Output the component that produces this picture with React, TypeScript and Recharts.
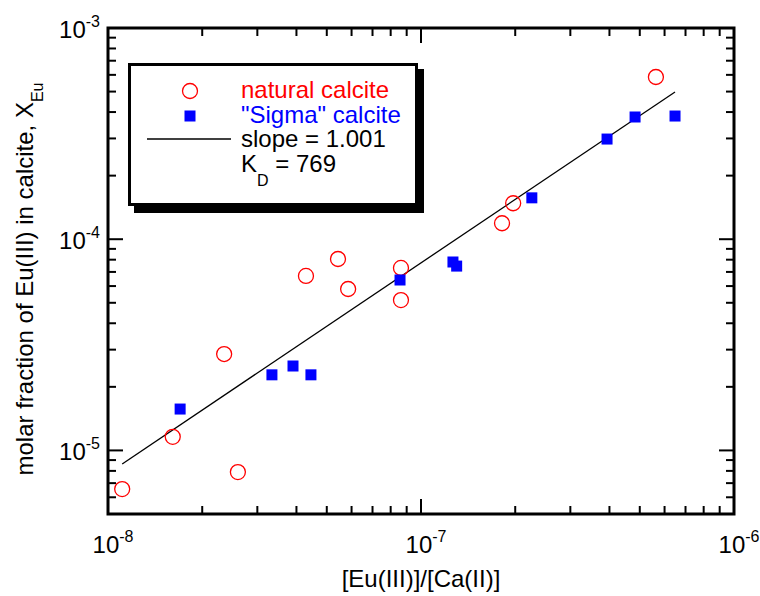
import React from 'react';
import { ScatterChart, Scatter, XAxis, YAxis, ReferenceArea, Legend, Label } from 'recharts';

// natural calcite (open red circles)
const naturalX = [1.11e-8, 1.61e-8, 2.35e-8, 2.6e-8, 4.29e-8, 5.43e-8, 5.85e-8, 8.63e-8, 8.63e-8, 1.815e-7, 1.97e-7, 5.63e-7];
const naturalY = [6.56e-6, 1.16e-5, 2.86e-5, 7.9e-6, 6.7e-5, 8.06e-5, 5.81e-5, 7.31e-5, 5.15e-5, 1.19e-4, 1.48e-4, 5.86e-4];

// "Sigma" calcite (filled blue squares)
const sigmaX = [1.7e-8, 3.34e-8, 3.9e-8, 4.45e-8, 8.57e-8, 1.265e-7, 1.3e-7, 2.26e-7, 3.93e-7, 4.83e-7, 6.48e-7];
const sigmaY = [1.57e-5, 2.28e-5, 2.51e-5, 2.28e-5, 6.41e-5, 7.8e-5, 7.46e-5, 1.57e-4, 2.98e-4, 3.79e-4, 3.83e-4];

// fitted line ends (slope = 1.001, KD = 769)
const fitX = [1.11e-8, 6.48e-7];
const fitY = [8.63e-6, 4.98e-4];

const xDomain = [1e-8, 1e-6];
const yDomain = [5e-6, 1e-3];
const xMajor = [1e-8, 1e-7, 1e-6];
const xMajorLabels = ['-8', '-7', '-6'];
const yMajor = [1e-5, 1e-4, 1e-3];
const yMajorLabels = ['-5', '-4', '-3'];
const mantissas = [2, 3, 4, 5, 6, 7, 8, 9];

const legendNatural = 'natural calcite';
const legendSigma = '"Sigma" calcite';
const legendSlope = 'slope = 1.001';
const legendKd = '769';

const FONT = "'Liberation Sans', Arial, Helvetica, sans-serif";
const W = 760;
const H = 596;
const PLOT_LEFT = 108;
const PLOT_TOP = 28;
const PLOT_RIGHT = 734;
const PLOT_BOTTOM = 514;

const zip = (xs: number[], ys: number[]) => xs.map((x, i) => ({ x, y: ys[i] }));
const naturalData = zip(naturalX, naturalY);
const sigmaData = zip(sigmaX, sigmaY);
const fitData = zip(fitX, fitY);

const minorTicks = (majors: number[], domain: number[]) => {
  const out: number[] = [];
  [majors[0] / 10, ...majors].forEach(d => {
    mantissas.forEach(m => {
      const v = m * d;
      if (v >= domain[0] * 0.999 && v <= domain[1] * 1.001) out.push(v);
    });
  });
  return out;
};

const xTicks = [...xMajor, ...minorTicks(xMajor, xDomain)].sort((a, b) => a - b);
const yTicks = [...yMajor, ...minorTicks(yMajor, yDomain)].sort((a, b) => a - b);

const majorIndex = (v: number, majors: number[]) =>
  majors.findIndex(m => Math.abs(Math.log10(v) - Math.log10(m)) < 1e-6);

const XTick = ({ x, payload }: any) => {
  const idx = majorIndex(payload.value, xMajor);
  const len = idx >= 0 ? 15 : 8;
  return (
    <g>
      <line x1={x} x2={x} y1={PLOT_BOTTOM} y2={PLOT_BOTTOM - len} stroke="#000" strokeWidth={2} />
      <line x1={x} x2={x} y1={PLOT_TOP} y2={PLOT_TOP + len} stroke="#000" strokeWidth={2} />
      {idx >= 0 && (
        <text x={x + 5} y={PLOT_BOTTOM + 39} textAnchor="middle" fontSize={24} fontFamily={FONT} fill="#000">
          10<tspan dy={-11} fontSize={16}>{xMajorLabels[idx]}</tspan>
        </text>
      )}
    </g>
  );
};

const YTick = ({ y, payload }: any) => {
  const idx = majorIndex(payload.value, yMajor);
  const len = idx >= 0 ? 15 : 8;
  return (
    <g>
      <line x1={PLOT_LEFT} x2={PLOT_LEFT + len} y1={y} y2={y} stroke="#000" strokeWidth={2} />
      <line x1={PLOT_RIGHT} x2={PLOT_RIGHT - len} y1={y} y2={y} stroke="#000" strokeWidth={2} />
      {idx >= 0 && (
        <text x={PLOT_LEFT - 8} y={y + 10} textAnchor="end" fontSize={24} fontFamily={FONT} fill="#000">
          10<tspan dy={-11} fontSize={16}>{yMajorLabels[idx]}</tspan>
        </text>
      )}
    </g>
  );
};

const XTitle = () => (
  <text x={(PLOT_LEFT + PLOT_RIGHT) / 2} y={587} textAnchor="middle" fontSize={24} fontFamily={FONT} fill="#000">
    [Eu(III)]/[Ca(II)]
  </text>
);

const YTitle = () => (
  <text transform={`translate(33, 279) rotate(-90)`} textAnchor="middle" fontSize={24} fontFamily={FONT} fill="#000">
    molar fraction of Eu(III) in calcite, X<tspan dy={10} fontSize={16}>Eu</tspan>
  </text>
);

const Circle = (p: any) => (
  <circle cx={p.cx} cy={p.cy} r={7.5} fill="none" stroke="#ff0000" strokeWidth={1.3} />
);
const Square = (p: any) => (
  <rect x={p.cx - 5.5} y={p.cy - 5.5} width={11} height={11} fill="#0000ff" />
);
const NoMark = () => <g />;

// legend box with drop shadow, local coords start at (126, 61)
const LegendBox = () => (
  <svg width={300} height={156} style={{ display: 'block' }}>
    <rect x={8} y={8} width={290} height={144} fill="#000" />
    <rect x={3.5} y={3.5} width={287} height={140} fill="#fff" stroke="#000" strokeWidth={3} />
    <circle cx={64} cy={30} r={7.5} fill="none" stroke="#ff0000" strokeWidth={1.3} />
    <rect x={58.5} y={49.5} width={11} height={11} fill="#0000ff" />
    <line x1={21} x2={105} y1={78} y2={78} stroke="#000" strokeWidth={1.3} />
    <g fontSize={24} fontFamily={FONT}>
      <text x={115} y={37} fill="#ff0000">{legendNatural}</text>
      <text x={115} y={62} fill="#0000ff">{legendSigma}</text>
      <text x={115} y={86} fill="#000">{legendSlope}</text>
      <text x={115} y={111} fill="#000">
        K<tspan dy={14} fontSize={16}>D</tspan><tspan dy={-14}> = {legendKd}</tspan>
      </text>
    </g>
  </svg>
);

export default function App() {
  return (
    <div style={{ position: 'absolute', left: 0, top: 0, width: W, height: H, background: '#fff' }}>
      <ScatterChart
        width={W}
        height={H}
        margin={{ top: PLOT_TOP, right: W - PLOT_RIGHT, left: PLOT_LEFT - 60, bottom: H - PLOT_BOTTOM - 40 }}
      >
        <XAxis
          type="number"
          dataKey="x"
          scale="log"
          domain={xDomain}
          allowDataOverflow
          ticks={xTicks}
          interval={0}
          tick={<XTick />}
          tickLine={false}
          axisLine={false}
          tickSize={0}
          tickMargin={0}
          height={40}
        >
          <Label content={<XTitle />} />
        </XAxis>
        <YAxis
          type="number"
          dataKey="y"
          scale="log"
          domain={yDomain}
          allowDataOverflow
          ticks={yTicks}
          interval={0}
          tick={<YTick />}
          tickLine={false}
          axisLine={false}
          tickSize={0}
          tickMargin={0}
          width={60}
        >
          <Label content={<YTitle />} />
        </YAxis>
        <ReferenceArea
          x1={xDomain[0]}
          x2={xDomain[1]}
          y1={yDomain[0]}
          y2={yDomain[1]}
          fill="none"
          fillOpacity={0}
          stroke="#000"
          strokeWidth={3}
          strokeOpacity={1}
        />
        <Scatter
          name="fit"
          data={fitData}
          line={{ stroke: '#000', strokeWidth: 1.3 }}
          shape={<NoMark />}
          isAnimationActive={false}
        />
        <Scatter name={legendNatural} data={naturalData} shape={<Circle />} isAnimationActive={false} />
        <Scatter name={legendSigma} data={sigmaData} shape={<Square />} isAnimationActive={false} />
        <Legend
          layout="vertical"
          align="center"
          verticalAlign="middle"
          content={<LegendBox />}
          wrapperStyle={{ left: 126, top: 61, width: 300, height: 156 }}
        />
      </ScatterChart>
    </div>
  );
}
